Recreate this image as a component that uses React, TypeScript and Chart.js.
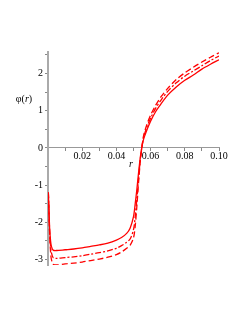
import React, { useEffect, useRef } from "react";
import { Chart, registerables } from "chart.js";

Chart.register(...registerables);

const rValues = [0.0002, 0.0006, 0.001, 0.0015, 0.002, 0.003, 0.005, 0.01, 0.015, 0.02, 0.025, 0.03, 0.035, 0.04, 0.043, 0.046, 0.048, 0.05, 0.051, 0.052, 0.053, 0.054, 0.055, 0.056, 0.058, 0.06, 0.063, 0.066, 0.07, 0.075, 0.08, 0.085, 0.09, 0.095, 0.1];

const phiSolid = [-1.2, -1.7, -2.2, -2.5, -2.65, -2.75, -2.76, -2.74, -2.72, -2.69, -2.65, -2.61, -2.56, -2.48, -2.41, -2.3, -2.16, -1.85, -1.5, -1.1, -0.65, -0.25, 0.05, 0.25, 0.5, 0.72, 0.98, 1.18, 1.42, 1.64, 1.82, 1.96, 2.12, 2.25, 2.37];

const phiDashDot = [-1.2, -1.75, -2.3, -2.65, -2.82, -2.95, -2.97, -2.95, -2.93, -2.9, -2.86, -2.82, -2.77, -2.7, -2.63, -2.54, -2.45, -2.2, -1.85, -1.35, -0.8, -0.3, 0.05, 0.3, 0.58, 0.8, 1.07, 1.28, 1.52, 1.75, 1.93, 2.07, 2.21, 2.35, 2.47];

const phiDashed = [-1.2, -1.8, -2.4, -2.8, -3.0, -3.13, -3.15, -3.12, -3.1, -3.07, -3.03, -2.99, -2.94, -2.87, -2.8, -2.7, -2.62, -2.42, -2.1, -1.55, -0.9, -0.35, 0.05, 0.35, 0.65, 0.88, 1.15, 1.37, 1.6, 1.84, 2.02, 2.17, 2.31, 2.44, 2.56];

const xTicks = [0.01, 0.02, 0.03, 0.04, 0.05, 0.06, 0.07, 0.08, 0.09, 0.1];
const xTickLabels: Record<string, string> = { "0.02": "0.02", "0.04": "0.04", "0.06": "0.06", "0.08": "0.08", "0.1": "0.10" };
const yTicks = [-3, -2.5, -2, -1.5, -1, -0.5, 0, 0.5, 1, 1.5, 2, 2.5];
const yTickLabels: Record<string, string> = { "-3": "-3", "-2": "-2", "-1": "-1", "0": "0", "1": "1", "2": "2" };

const FONT = "'Liberation Serif', 'DejaVu Serif', serif";

const toPoints = (ys: number[]) => rValues.map((r, i) => ({ x: r, y: ys[i] }));

export default function App() {
  const ref = useRef<HTMLCanvasElement | null>(null);
  useEffect(() => {
    document.body.style.margin = "0";
    const canvas = ref.current!;
    const titlePlugin = {
      id: "titles",
      afterDraw(chart: any) {
        const ctx = chart.ctx;
        ctx.save();
        ctx.fillStyle = "#000";
        ctx.textBaseline = "middle";
        ctx.font = `italic 10px ${FONT}`;
        ctx.textAlign = "center";
        ctx.fillText("r", 131, 164);
        ctx.textAlign = "left";
        ctx.font = `10px ${FONT}`;
        const p1 = "\u03c6(";
        const w1 = ctx.measureText(p1).width;
        ctx.font = `italic 10px ${FONT}`;
        const w2 = ctx.measureText("r").width;
        ctx.font = `10px ${FONT}`;
        const w3 = ctx.measureText(")").width;
        let x = 24 - (w1 + w2 + w3) / 2;
        ctx.fillText(p1, x, 99);
        x += w1;
        ctx.font = `italic 10px ${FONT}`;
        ctx.fillText("r", x, 99);
        x += w2;
        ctx.font = `10px ${FONT}`;
        ctx.fillText(")", x, 99);
        ctx.restore();
      },
    };
    const chart = new Chart(canvas, {
      type: "scatter",
      data: {
        datasets: [
          { data: toPoints(phiSolid), showLine: true, borderColor: "#ff0000", borderWidth: 1.3, pointRadius: 0, tension: 0.3 },
          { data: toPoints(phiDashDot), showLine: true, borderColor: "#ff0000", borderWidth: 1.3, borderDash: [6, 2, 2, 2], pointRadius: 0, tension: 0.3 },
          { data: toPoints(phiDashed), showLine: true, borderColor: "#ff0000", borderWidth: 1.3, borderDash: [6, 3], pointRadius: 0, tension: 0.3 },
        ],
      },
      options: {
        animation: false,
        responsive: false,
        layout: { padding: { left: 0, right: 26, top: 52, bottom: 52 } },
        plugins: { legend: { display: false }, tooltip: { enabled: false } },
        scales: {
          x: {
            type: "linear",
            min: 0,
            max: 0.1,
            position: { y: 0 } as any,
            afterFit(scale: any) { scale.height = 0; },
            afterBuildTicks(scale: any) { scale.ticks = xTicks.map((v) => ({ value: v })); },
            grid: { drawOnChartArea: false, tickLength: 3, color: "#888" },
            border: { color: "#999", width: 1 },
            ticks: {
              autoSkip: false,
              maxRotation: 0,
              padding: -1,
              color: "#000",
              font: { family: FONT, size: 10 },
              callback: (v: any) => xTickLabels[String(Math.round(Number(v) * 100) / 100)] ?? "",
            },
          },
          y: {
            type: "linear",
            min: -3.15,
            max: 2.58,
            afterFit(scale: any) { scale.width = 48; },
            afterBuildTicks(scale: any) { scale.ticks = yTicks.map((v) => ({ value: v })); },
            grid: { drawOnChartArea: false, tickLength: 3, color: "#888" },
            border: { color: "#aaa", width: 2 },
            ticks: {
              autoSkip: false,
              padding: 2,
              color: "#000",
              font: { family: FONT, size: 10 },
              callback: (v: any) => yTickLabels[String(v)] ?? "",
            },
          },
        },
      },
      plugins: [titlePlugin],
    });
    return () => chart.destroy();
  }, []);
  return <canvas ref={ref} width={245} height={317} style={{ display: "block", width: 245, height: 317 }} />;
}
